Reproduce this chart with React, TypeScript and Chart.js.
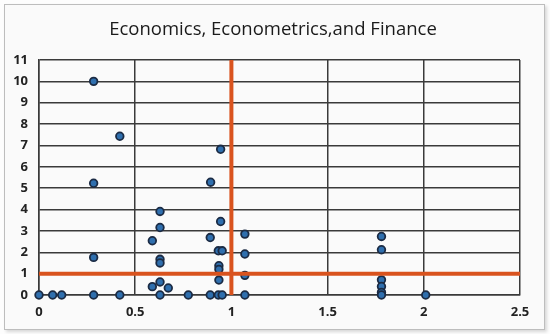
import React, { useEffect, useRef } from "react";
import { Chart, registerables } from "chart.js";

Chart.register(...registerables);

const TITLE = "Economics, Econometrics,and Finance";
const X_TICKS = [0, 0.5, 1, 1.5, 2, 2.5];
const Y_MAX = 11;

const pointX = [
  0.284, 0.42, 0.944, 0.284, 0.892,
  0.629, 0.944, 0.629, 1.07, 0.589, 0.89, 0.932, 0.952, 1.07, 0.284,
  0.629, 0.629, 0.935, 0.935, 1.07, 0.935, 0.589, 0.629, 0.672,
  0, 0.071, 0.118, 0.284, 0.42, 0.629, 0.776, 0.89, 0.932, 0.952, 1.07,
  1.78, 1.78, 1.78, 1.78, 1.78, 1.78, 2.01,
];
const pointY = [
  10, 7.43, 6.82, 5.23, 5.28,
  3.91, 3.44, 3.16, 2.85, 2.54, 2.69, 2.07, 2.07, 1.92, 1.76,
  1.67, 1.5, 1.37, 1.2, 0.92, 0.7, 0.39, 0.61, 0.33,
  0, 0, 0, 0, 0, 0, 0, 0, 0, 0, 0,
  2.74, 2.12, 0.71, 0.4, 0.12, 0, 0,
];

const VLINE_X = [1, 1];
const VLINE_Y = [0, 11];
const HLINE_X = [0, 2.5];
const HLINE_Y = [1, 1];

const titlePlugin = {
  id: "fixedTitle",
  afterDraw(chart: any) {
    const c = chart.ctx;
    c.save();
    c.fillStyle = "#1a1a1a";
    c.font = "18.5px 'Open Sans'";
    c.textAlign = "center";
    c.textBaseline = "middle";
    c.fillText(TITLE, 273, 30);
    c.restore();
  },
};

export default function App() {
  const ref = useRef<HTMLCanvasElement>(null);
  useEffect(() => {
    document.body.style.margin = "0";
    const ctx = ref.current!.getContext("2d")!;
    const orange = "#d9531e";
    const chart = new Chart(ctx, {
      type: "scatter",
      plugins: [titlePlugin],
      data: {
        datasets: [
          {
            label: "v",
            data: VLINE_X.map((x, i) => ({ x, y: VLINE_Y[i] })),
            showLine: true,
            borderColor: orange,
            borderWidth: 4,
            pointRadius: 0,
            clip: false,
            order: 0,
          },
          {
            label: "h",
            data: HLINE_X.map((x, i) => ({ x, y: HLINE_Y[i] })),
            showLine: true,
            borderColor: orange,
            borderWidth: 4,
            pointRadius: 0,
            clip: false,
            order: 0,
          },
          {
            label: "pts",
            data: pointX.map((x, i) => ({ x, y: pointY[i] })),
            backgroundColor: "#2f6fae",
            borderColor: "#1b2b44",
            borderWidth: 1.8,
            pointRadius: 3.8,
            clip: false,
            order: 1,
          },
        ],
      },
      options: {
        animation: false,
        responsive: false,
        layout: { padding: { top: 60, right: 30, left: 0, bottom: 0 } },
        plugins: {
          legend: { display: false },
          tooltip: { enabled: false },
          title: { display: false },
        },
        scales: {
          x: {
            type: "linear",
            min: 0,
            max: 2.5,
            afterBuildTicks: (s: any) => {
              s.ticks = X_TICKS.map((v) => ({ value: v }));
            },
            afterFit: (s: any) => {
              s.height = 39;
            },
            ticks: {
              color: "#222",
              font: { family: "Open Sans", size: 13, weight: "bold" },
              padding: 9,
              maxRotation: 0,
              callback: (v: any) => String(v),
            },
            grid: { color: "#3a3a3a", lineWidth: 1.5, drawTicks: false },
            border: { color: "#3a3a3a", width: 1.5 },
          },
          y: {
            type: "linear",
            min: 0,
            max: Y_MAX,
            ticks: {
              stepSize: 1,
              color: "#222",
              font: { family: "Open Sans", size: 13, weight: "bold" },
              padding: 11,
            },
            afterFit: (s: any) => {
              s.width = 39;
            },
            grid: { color: "#3a3a3a", lineWidth: 1.5, drawTicks: false },
            border: { color: "#3a3a3a", width: 1.5 },
          },
        },
      },
    });
    return () => chart.destroy();
  }, []);
  return (
    <div style={{ position: "relative", width: 550, height: 334, background: "#fdfdfd" }}>
      <div
        style={{
          position: "absolute",
          left: 4,
          top: 4,
          width: 539,
          height: 324,
          border: "1px solid #bdbdbd",
          boxShadow: "2px 2px 3px rgba(0,0,0,0.15)",
          background: "#fafafa",
        }}
      />
      <canvas ref={ref} width={550} height={334} style={{ position: "absolute", left: 0, top: 0 }} />
    </div>
  );
}
